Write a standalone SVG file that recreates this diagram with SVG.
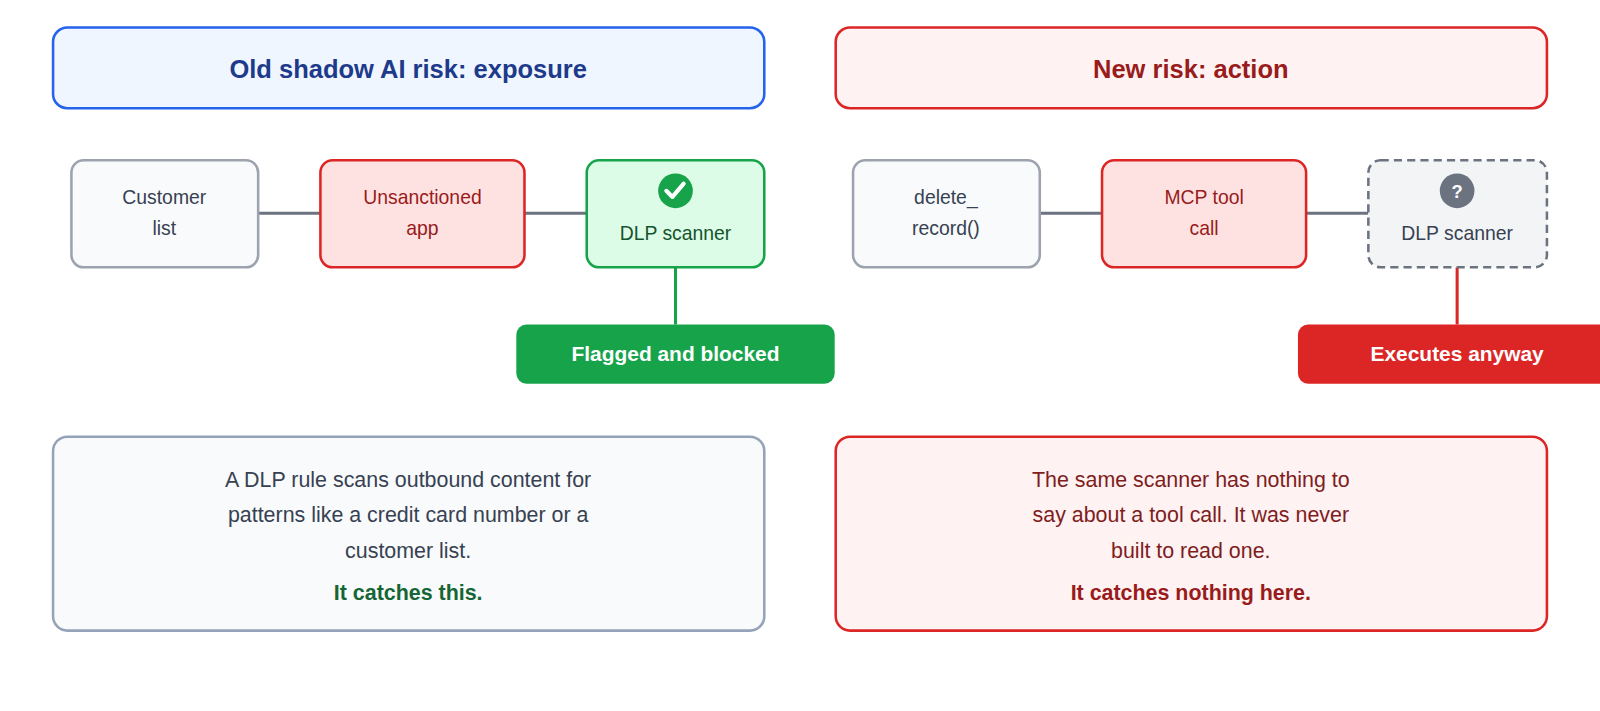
<svg xmlns="http://www.w3.org/2000/svg" width="1600" height="711" viewBox="0 0 1600 711">
<style>
text{font-family:"Liberation Sans",Arial,sans-serif;text-anchor:middle}
.t{font-size:25px;font-weight:bold}
.n{font-size:19px}
.b{font-size:21px}
.bb{font-size:21px;font-weight:bold}
.lbl{font-size:20.5px;font-weight:bold;fill:#fff}
</style>
<rect width="1600" height="711" fill="#fff"/>
<g transform="scale(1.0204)">
<g id="connectors" stroke-width="3">
<line x1="253" y1="209" x2="314" y2="209" stroke="#6b7280"/>
<line x1="514" y1="209" x2="575" y2="209" stroke="#6b7280"/>
<line x1="1019" y1="209" x2="1080" y2="209" stroke="#6b7280"/>
<line x1="1280" y1="209" x2="1341" y2="209" stroke="#6b7280"/>
<line x1="662" y1="262" x2="662" y2="318" stroke="#16a34a"/>
<line x1="1428" y1="262" x2="1428" y2="318" stroke="#dc2626"/>
</g>
<g id="title-left"><rect x="52" y="27" width="697" height="79" rx="14" fill="#eff6ff" stroke="#2563eb" stroke-width="2.5"/><text x="400" y="76" class="t" fill="#1e3a8a">Old shadow AI risk: exposure</text></g>
<g id="title-right"><rect x="819" y="27" width="697" height="79" rx="14" fill="#fef2f2" stroke="#dc2626" stroke-width="2.5"/><text x="1167" y="76" class="t" fill="#991b1b">New risk: action</text></g>
<g id="customer-list"><rect x="70" y="157" width="183" height="105" rx="12" fill="#f8fafc" stroke="#9ca3af" stroke-width="2.5"/><text class="n" fill="#374151"><tspan x="161" y="200">Customer</tspan><tspan x="161" y="230">list</tspan></text></g>
<g id="unsanctioned-app"><rect x="314" y="157" width="200" height="105" rx="12" fill="#fee2e2" stroke="#dc2626" stroke-width="2.5"/><text class="n" fill="#991b1b"><tspan x="414" y="200">Unsanctioned</tspan><tspan x="414" y="230">app</tspan></text></g>
<g id="dlp-left"><rect x="575" y="157" width="174" height="105" rx="12" fill="#dcfce7" stroke="#16a34a" stroke-width="2.5"/><circle cx="662" cy="187" r="17" fill="#16a34a"/><path d="M653 187 l6 6 l11 -13" fill="none" stroke="#fff" stroke-width="4" stroke-linecap="round" stroke-linejoin="round"/><text x="662" y="235" class="n" fill="#14532d">DLP scanner</text></g>
<g id="flagged"><rect x="506" y="318" width="312" height="58" rx="10" fill="#16a34a"/><text x="662" y="354" class="lbl">Flagged and blocked</text></g>
<g id="delete-record"><rect x="836" y="157" width="183" height="105" rx="12" fill="#f8fafc" stroke="#9ca3af" stroke-width="2.5"/><text class="n" fill="#374151"><tspan x="927" y="200">delete_</tspan><tspan x="927" y="230">record()</tspan></text></g>
<g id="mcp-tool-call"><rect x="1080" y="157" width="200" height="105" rx="12" fill="#fee2e2" stroke="#dc2626" stroke-width="2.5"/><text class="n" fill="#991b1b"><tspan x="1180" y="200">MCP tool</tspan><tspan x="1180" y="230">call</tspan></text></g>
<g id="dlp-right"><rect x="1341" y="157" width="175" height="105" rx="12" fill="#f3f4f6" stroke="#6b7280" stroke-width="2.5" stroke-dasharray="8 5"/><circle cx="1428" cy="187" r="17" fill="#6b7280"/><text x="1428" y="194" font-size="18" font-weight="bold" fill="#fff">?</text><text x="1428" y="235" class="n" fill="#374151">DLP scanner</text></g>
<g id="executes"><rect x="1272" y="318" width="312" height="58" rx="10" fill="#dc2626"/><text x="1428" y="354" class="lbl">Executes anyway</text></g>
<g id="note-left"><rect x="52" y="428" width="697" height="190" rx="14" fill="#f8fafc" stroke="#94a3b8" stroke-width="2.5"/><text class="b" fill="#374151"><tspan x="400" y="477">A DLP rule scans outbound content for</tspan><tspan x="400" y="512">patterns like a credit card number or a</tspan><tspan x="400" y="547">customer list.</tspan></text><text x="400" y="588" class="bb" fill="#166534">It catches this.</text></g>
<g id="note-right"><rect x="819" y="428" width="697" height="190" rx="14" fill="#fef2f2" stroke="#dc2626" stroke-width="2.5"/><text class="b" fill="#7f1d1d"><tspan x="1167" y="477">The same scanner has nothing to</tspan><tspan x="1167" y="512">say about a tool call. It was never</tspan><tspan x="1167" y="547">built to read one.</tspan></text><text x="1167" y="588" class="bb" fill="#991b1b">It catches nothing here.</text></g>
</g>
</svg>
